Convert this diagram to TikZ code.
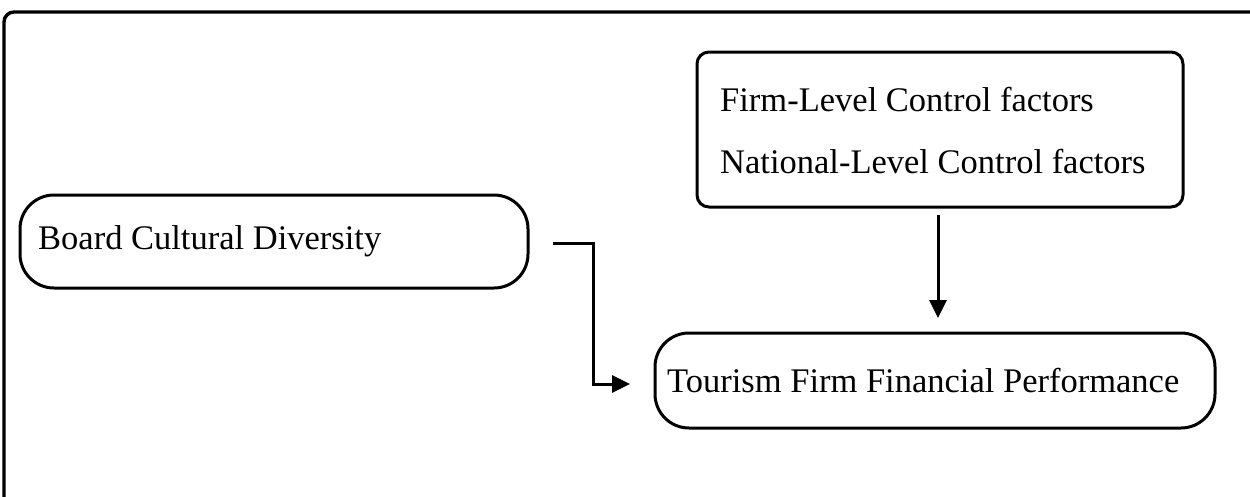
\documentclass[tikz,border=0pt]{standalone}
\usepackage{fontspec}
\setmainfont{Liberation Serif}
\usetikzlibrary{arrows.meta}
\begin{document}
\begin{tikzpicture}[x=1pt,y=-1pt,
  bigbox/.style={draw,line width=3pt,rounded corners=34pt},
  smallbox/.style={draw,line width=3pt,rounded corners=12pt},
  lbl/.style={anchor=west,inner sep=0pt,font=\fontsize{34.5}{40}\selectfont},
  conn/.style={line width=3pt,-{Triangle[length=18pt,width=17pt]}}]
\useasboundingbox (0,0) rectangle (1250,496);
\draw[line width=3.4pt,rounded corners=10pt] (1270,12) -- (4,12) -- (4,510);
\node[bigbox,minimum width=508pt,minimum height=93pt,inner sep=0pt] (bcd) at (274,241.5) {};
\node[lbl] (bcdt) at (38,241) {Board Cultural Diversity};
\node[smallbox,minimum width=486pt,minimum height=155pt,inner sep=0pt] (ctl) at (940,129.5) {};
\node[lbl] (ctl1) at (720,100) {Firm-Level Control factors};
\node[lbl] (ctl2) at (720,162) {National-Level Control factors};
\node[bigbox,minimum width=560pt,minimum height=95pt,inner sep=0pt] (tfp) at (935,380.5) {};
\node[lbl] (tfpt) at (667,381) {Tourism Firm Financial Performance};
\coordinate (a0) at (553,243);
\coordinate (a1) at (630,384);
\draw[conn] (a0) -- (593,243) -- (593,384) -- (a1);
\coordinate (b0) at (938,215);
\coordinate (b1) at (938,318);
\draw[conn] (b0) -- (b1);
\end{tikzpicture}
\end{document}
